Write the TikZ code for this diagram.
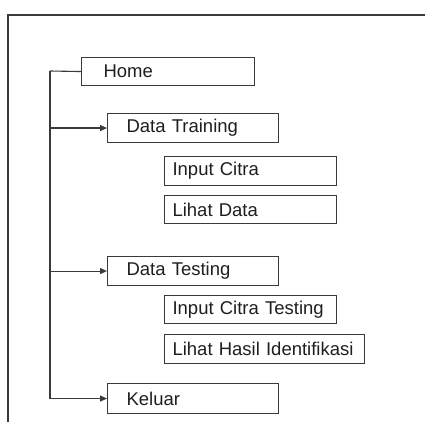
\documentclass[tikz,border=0pt]{standalone}
\usepackage{fontspec}
\setmainfont{Liberation Sans}
\usetikzlibrary{arrows.meta}
\definecolor{linec}{HTML}{3A3A3A}
\definecolor{textc}{HTML}{1E1E1E}
\begin{document}
\begin{tikzpicture}[x=1pt,y=1pt,
  menubox/.style={draw=linec, line width=1.1pt, rectangle, anchor=north west,
    align=left, text=textc, font=\fontsize{18.5}{20}\selectfont, inner ysep=0pt},
  conn/.style={draw=linec, line width=1.1pt},
  arr/.style={conn, -{Triangle[length=7pt,width=6pt]}}]
\useasboundingbox (0,0) rectangle (425,-422);
% outer frame
\coordinate (ftl) at (8,-15);
\coordinate (ftr) at (425,-15);
\coordinate (fbl) at (8,-422);
\draw[conn] (ftr) -- (ftl) -- (fbl);
% boxes
\node[menubox, minimum width=173pt, minimum height=28pt, text width=129pt, inner xsep=22pt] (home) at (81,-57) {Home};
\node[menubox, minimum width=171pt, minimum height=29pt, text width=133pt, inner xsep=19pt] (dtrain) at (107,-113) {Data Training};
\node[menubox, minimum width=172pt, minimum height=29pt, text width=156pt, inner xsep=8pt] (inc) at (164,-156) {Input Citra};
\node[menubox, minimum width=172pt, minimum height=28pt, text width=156pt, inner xsep=8pt] (lhd) at (164,-195) {Lihat Data};
\node[menubox, minimum width=171pt, minimum height=29pt, text width=133pt, inner xsep=19pt] (dtest) at (107,-256) {Data Testing};
\node[menubox, minimum width=172pt, minimum height=28pt, text width=156pt, inner xsep=8pt] (inct) at (164,-295) {Input Citra Testing};
\node[menubox, minimum width=200pt, minimum height=29pt, text width=184pt, inner xsep=8pt] (lhi) at (164,-334) {Lihat Hasil Identifikasi};
\node[menubox, minimum width=171pt, minimum height=30pt, text width=133pt, inner xsep=19pt] (kel) at (107,-383) {Keluar};
% connectors
\coordinate (trunk) at (50,-71);
\draw[conn] (home.west) -- (trunk);
\draw[arr] (trunk) |- (kel.west);
\draw[arr] (trunk |- dtrain.west) -- (dtrain.west);
\draw[arr] (trunk |- dtest.west) -- (dtest.west);
\end{tikzpicture}
\end{document}
